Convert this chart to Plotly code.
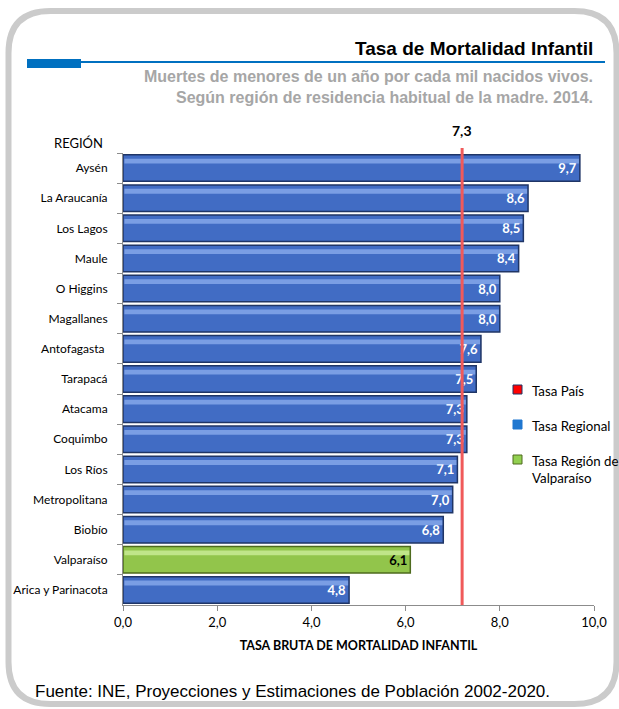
import plotly.graph_objects as go

# data
regiones = ["Aysén", "La Araucanía", "Los Lagos", "Maule", "O Higgins", "Magallanes",
            "Antofagasta ", "Tarapacá", "Atacama", "Coquimbo", "Los Ríos", "Metropolitana",
            "Biobío", "Valparaíso", "Arica y Parinacota"]
tasas = [9.7, 8.6, 8.5, 8.4, 8.0, 8.0, 7.6, 7.5, 7.3, 7.3, 7.1, 7.0, 6.8, 6.1, 4.8]
tasa_pais = 7.3
tasa_pais_linea = 7.2  # where the line is drawn in the picture
x_ticks = [0, 2, 4, 6, 8, 10]

W, H = 619, 709
L, R, T, B = 123, 25, 153, 104
PW, PH = W - L - R, H - T - B


def px(x):
    return (x - L) / PW


def py(y):
    return (H - B - y) / PH


bar_colors = ["#92C54B" if r == "Valparaíso" else "#416CC4" for r in regiones]
line_colors = ["#4E6B1E" if r == "Valparaíso" else "#1F3566" for r in regiones]
label_colors = ["black" if r == "Valparaíso" else "white" for r in regiones]
hi_colors = ["rgba(230,255,190,0.55)" if r == "Valparaíso" else "rgba(170,200,255,0.55)" for r in regiones]
labels = [f"<b>{v:.1f}</b>".replace(".", ",") for v in tasas]

fig = go.Figure()
fig.add_trace(go.Bar(
    y=regiones, x=tasas, orientation="h", width=0.88,
    marker=dict(color=bar_colors, line=dict(color=line_colors, width=1.5)),
    text=labels, textposition="inside", insidetextanchor="end",
    textfont=dict(color=label_colors, size=13, family="Lato, sans-serif"),
    showlegend=False,
))
# light highlight strip to mimic the bevelled bars
fig.add_trace(go.Bar(
    y=regiones, x=[v - 0.05 for v in tasas], base=0.03, orientation="h",
    width=0.16, offset=-0.31,
    marker=dict(color=hi_colors, line=dict(width=0)),
    hoverinfo="skip", showlegend=False,
))

shapes = []
# country rate line
shapes.append(dict(type="line", xref="x", yref="paper", x0=tasa_pais_linea, x1=tasa_pais_linea,
                   y0=0, y1=py(148), line=dict(color="#F05A5A", width=3)))

# rounded frame
x0, x1, y0, y1, r = 8.5, 616.5, 11, 704, 42
path = (f"M {px(x0)},{py(y0 + r)} Q {px(x0)},{py(y0)} {px(x0 + r)},{py(y0)} "
        f"L {px(x1 - r)},{py(y0)} Q {px(x1)},{py(y0)} {px(x1)},{py(y0 + r)} "
        f"L {px(x1)},{py(y1 - r)} Q {px(x1)},{py(y1)} {px(x1 - r)},{py(y1)} "
        f"L {px(x0 + r)},{py(y1)} Q {px(x0)},{py(y1)} {px(x0)},{py(y1 - r)} Z")
shapes.append(dict(type="path", xref="paper", yref="paper", path=path,
                   line=dict(color="#CBCBCB", width=6), layer="below"))

# title rule
shapes.append(dict(type="line", xref="paper", yref="paper", x0=px(27), x1=px(605),
                   y0=py(62), y1=py(62), line=dict(color="#0070C0", width=2)))
shapes.append(dict(type="rect", xref="paper", yref="paper", x0=px(27), x1=px(81),
                   y0=py(68), y1=py(59), line=dict(width=0), fillcolor="#0070C0"))

# legend keys
legend_items = [("Tasa País", "#FF0000", "#1F3566", 390),
                ("Tasa Regional", "#1F77D0", "#1F77D0", 425),
                ("Tasa Región de<br>Valparaíso", "#92D050", "#4E6B1E", 460)]
annotations = []
for text, fill, edge, yy in legend_items:
    shapes.append(dict(type="rect", xref="paper", yref="paper", x0=px(513), x1=px(522),
                       y0=py(yy + 4), y1=py(yy - 5), fillcolor=fill, line=dict(color=edge, width=1)))
    annotations.append(dict(xref="paper", yref="paper", x=px(530), y=py(yy - 9), text=text,
                            showarrow=False, xanchor="left", yanchor="top", align="left",
                            font=dict(size=13.3, color="black", family="Lato, sans-serif")))

annotations += [
    dict(xref="paper", yref="paper", x=px(595), y=py(48), text="<b>Tasa de Mortalidad Infantil</b>",
         showarrow=False, xanchor="right", yanchor="middle",
         font=dict(size=19, color="black", family="Liberation Sans, Arial, sans-serif")),
    dict(xref="paper", yref="paper", x=px(595), y=py(87),
         text="<b>Muertes de menores de un año por cada mil nacidos vivos.<br>"
              "Según región de residencia habitual de la madre. 2014.</b>",
         showarrow=False, xanchor="right", yanchor="middle", align="right",
         font=dict(size=16, color="#A6A6A6", family="Liberation Sans, Arial, sans-serif")),
    dict(xref="paper", yref="paper", x=px(52), y=py(143), text="REGIÓN",
         showarrow=False, xanchor="left", yanchor="middle",
         font=dict(size=13, color="black", family="Lato, sans-serif")),
    dict(xref="x", yref="paper", x=tasa_pais_linea, y=py(130), text="<b>" + f"{tasa_pais:.1f}".replace(".", ",") + "</b>",
         showarrow=False, xanchor="center", yanchor="middle",
         font=dict(size=14, color="black", family="Lato, sans-serif")),
    dict(xref="paper", yref="paper", x=px(33), y=py(691),
         text="Fuente: INE, Proyecciones y Estimaciones de Población 2002-2020.",
         showarrow=False, xanchor="left", yanchor="middle",
         font=dict(size=17, color="black", family="Liberation Sans, Arial, sans-serif")),
]

fig.update_layout(
    width=W, height=H,
    margin=dict(l=L, r=R, t=T, b=B),
    paper_bgcolor="white", plot_bgcolor="white",
    barmode="overlay", bargap=0.1,
    separators=",.",
    font=dict(family="Lato, sans-serif", size=12, color="black"),
    showlegend=False,
    shapes=shapes,
    annotations=annotations,
    xaxis=dict(range=[0, 10], tickvals=x_ticks, tickformat=".1f", showgrid=False,
               showline=True, linecolor="#8C8C8C", linewidth=1,
               ticks="outside", ticklen=5, tickcolor="#8C8C8C",
               tickfont=dict(size=13, family="Lato, sans-serif"),
               title=dict(text="<b>TASA BRUTA DE MORTALIDAD INFANTIL</b>", standoff=12,
                          font=dict(size=12.5, family="Lato, sans-serif")),
               zeroline=False, fixedrange=True, automargin=False),
    yaxis=dict(autorange="reversed", showgrid=False, showline=True, linecolor="#8C8C8C",
               linewidth=1, ticks="outside", ticklen=5, tickcolor="#8C8C8C",
               tickson="boundaries", ticklabelstandoff=12,
               tickfont=dict(size=12, family="Lato, sans-serif"), fixedrange=True,
               automargin=False),
)

# drop the default page margin so the figure fills the window
fig.write_html("out.html", config={"displayModeBar": False},
               post_script="document.body.style.margin = '0';")
